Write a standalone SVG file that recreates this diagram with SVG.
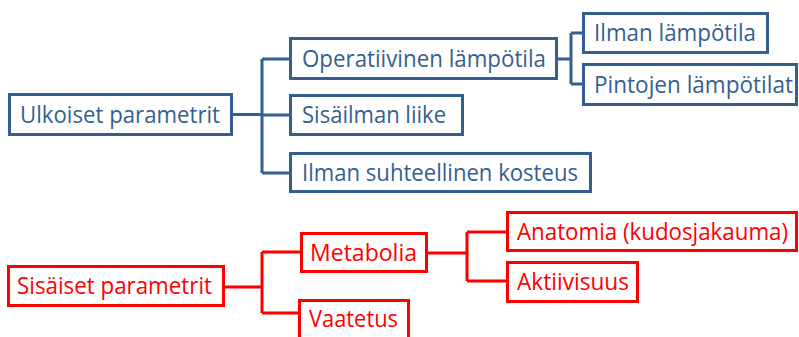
<svg xmlns="http://www.w3.org/2000/svg" width="799" height="337" viewBox="0 0 799 337">
  <style>
    .box { fill: #ffffff; stroke-width: 3; }
    .blue .box { stroke: #365F91; }
    .red .box { stroke: #FF0000; }
    .lbl { font-family: "Open Sans", "Noto Sans", sans-serif; font-size: 23px; }
    .blue .lbl { fill: #365F91; }
    .red .lbl { fill: #FF0000; }
    .wire { fill: none; stroke-width: 3; stroke-linejoin: miter; }
    .wire.b { stroke: #365F91; }
    .wire.r { stroke: #FF0000; }
  </style>
  <rect width="799" height="337" fill="#ffffff"/>

  <!-- connectors -->
  <g id="connectors">
    <path class="wire b" d="M233 114.5 H262 M262 59 V173 M262 59 H289 M262 115 H289 M262 173 H289"/>
    <path class="wire b" d="M558 59 H571 M571 33 V84 M571 33 H582 M571 84 H582"/>
    <path class="wire r" d="M225 287 H262 M262 252 V313 M262 252 H300 M262 313 H300"/>
    <path class="wire r" d="M428 253 H467 M467 232 V281 M467 232 H506 M467 281 H506"/>
  </g>

  <!-- outdoor parameters -->
  <g id="ulkoiset" class="blue">
    <rect class="box" x="9.5" y="94.5" width="222" height="40"/>
    <text class="lbl" x="20" y="122.5" textLength="200" lengthAdjust="spacingAndGlyphs">Ulkoiset parametrit</text>
  </g>
  <g id="operatiivinen" class="blue">
    <rect class="box" x="290.5" y="38.5" width="266" height="40"/>
    <text class="lbl" x="302" y="66.5" textLength="244" lengthAdjust="spacingAndGlyphs">Operatiivinen lämpötila</text>
  </g>
  <g id="sisailman-liike" class="blue">
    <rect class="box" x="290.5" y="95.5" width="172" height="39"/>
    <text class="lbl" x="302" y="123" textLength="144" lengthAdjust="spacingAndGlyphs">Sisäilman liike</text>
  </g>
  <g id="kosteus" class="blue">
    <rect class="box" x="290.5" y="153.5" width="300" height="38"/>
    <text class="lbl" x="302" y="180.5" textLength="276" lengthAdjust="spacingAndGlyphs">Ilman suhteellinen kosteus</text>
  </g>
  <g id="ilman-lampotila" class="blue">
    <rect class="box" x="583.5" y="13.5" width="184" height="39"/>
    <text class="lbl" x="594" y="41" textLength="162" lengthAdjust="spacingAndGlyphs">Ilman lämpötila</text>
  </g>
  <g id="pintojen-lampotilat" class="blue">
    <rect class="box" x="583.5" y="64.5" width="213" height="40"/>
    <text class="lbl" x="594" y="92.5" textLength="199" lengthAdjust="spacingAndGlyphs">Pintojen lämpötilat</text>
  </g>

  <!-- internal parameters -->
  <g id="sisaiset" class="red">
    <rect class="box" x="8.5" y="266.5" width="215" height="39"/>
    <text class="lbl" x="17" y="294" textLength="195" lengthAdjust="spacingAndGlyphs">Sisäiset parametrit</text>
  </g>
  <g id="metabolia" class="red">
    <rect class="box" x="301.5" y="233.5" width="125" height="38"/>
    <text class="lbl" x="310" y="260.5" textLength="107" lengthAdjust="spacingAndGlyphs">Metabolia</text>
  </g>
  <g id="vaatetus" class="red">
    <rect class="box" x="299.5" y="300.5" width="109" height="45"/>
    <text class="lbl" x="309" y="327" textLength="89" lengthAdjust="spacingAndGlyphs">Vaatetus</text>
  </g>
  <g id="anatomia" class="red">
    <rect class="box" x="507.5" y="212.5" width="289" height="38"/>
    <text class="lbl" x="517" y="239.5" textLength="271" lengthAdjust="spacingAndGlyphs">Anatomia (kudosjakauma)</text>
  </g>
  <g id="aktiivisuus" class="red">
    <rect class="box" x="507.5" y="262.5" width="130" height="39"/>
    <text class="lbl" x="517" y="290" textLength="112" lengthAdjust="spacingAndGlyphs">Aktiivisuus</text>
  </g>
</svg>
